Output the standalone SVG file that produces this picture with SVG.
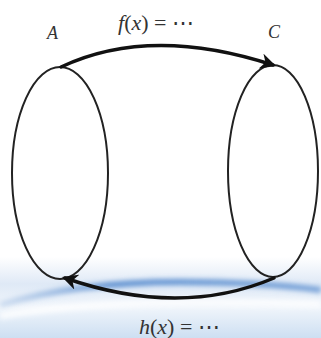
<svg xmlns="http://www.w3.org/2000/svg" width="321" height="338" viewBox="0 0 321 338">
<defs>
<style>
.set{fill:none;stroke:#222;stroke-width:2}
.arc{fill:none;stroke:#111;stroke-width:3.5;stroke-linecap:round}
.lbl{font-family:"Liberation Serif","DejaVu Serif",serif;font-style:italic;fill:#333}
.fn{font-family:"Liberation Serif","DejaVu Serif",serif;fill:#333;font-size:22px}
</style>
<linearGradient id="bg" x1="0" y1="0" x2="0" y2="1">
<stop offset="0" stop-color="#ffffff"/>
<stop offset="0.76" stop-color="#ffffff"/>
<stop offset="0.84" stop-color="#dfe9f6"/>
<stop offset="0.91" stop-color="#f0f5fb"/>
<stop offset="1" stop-color="#cddff2"/>
</linearGradient>
<linearGradient id="sw" x1="0" y1="0" x2="1" y2="0">
<stop offset="0" stop-color="#7fa6d8" stop-opacity="0.3"/>
<stop offset="0.35" stop-color="#4f86cc" stop-opacity="0.9"/>
<stop offset="1" stop-color="#5c8fd0" stop-opacity="0.8"/>
</linearGradient>
<filter id="blur" x="-10%" y="-100%" width="120%" height="300%"><feGaussianBlur stdDeviation="2.5"/></filter>
<marker id="ah" viewBox="0 0 10 10" refX="8" refY="5" markerWidth="4.5" markerHeight="4.5" orient="auto-start-reverse" markerUnits="strokeWidth">
<path d="M0,0 L10,5 L0,10 L3,5 Z" fill="#111"/>
</marker>
</defs>
<rect width="321" height="338" fill="url(#bg)"/>
<g id="background">
<path d="M0,305 C50,290 110,282 180,282 C240,282 290,286 321,290" fill="none" stroke="url(#sw)" stroke-width="6" filter="url(#blur)"/>
<path d="M0,316 C80,302 180,300 321,304" fill="none" stroke="#ffffff" stroke-width="7" filter="url(#blur)" opacity="0.8"/>
</g>
<g id="node-A">
<ellipse class="set" cx="60" cy="173" rx="48" ry="106"/>
<text class="lbl" x="47" y="39" font-size="18">A</text>
</g>
<g id="node-C">
<ellipse class="set" cx="273" cy="171" rx="45" ry="106"/>
<text class="lbl" x="268" y="38" font-size="18">C</text>
</g>
<g id="connectors">
<path class="arc" d="M61,67 Q150,25 273,65" marker-end="url(#ah)"/>
<path class="arc" d="M274,278 Q180,318 65,278" marker-end="url(#ah)"/>
</g>
<g id="labels">
<text class="fn" x="118" y="30"><tspan font-style="italic">f</tspan>(<tspan font-style="italic">x</tspan>) = ⋯</text>
<text class="fn" x="139" y="334"><tspan font-style="italic">h</tspan>(<tspan font-style="italic">x</tspan>) = ⋯</text>
</g>
</svg>
